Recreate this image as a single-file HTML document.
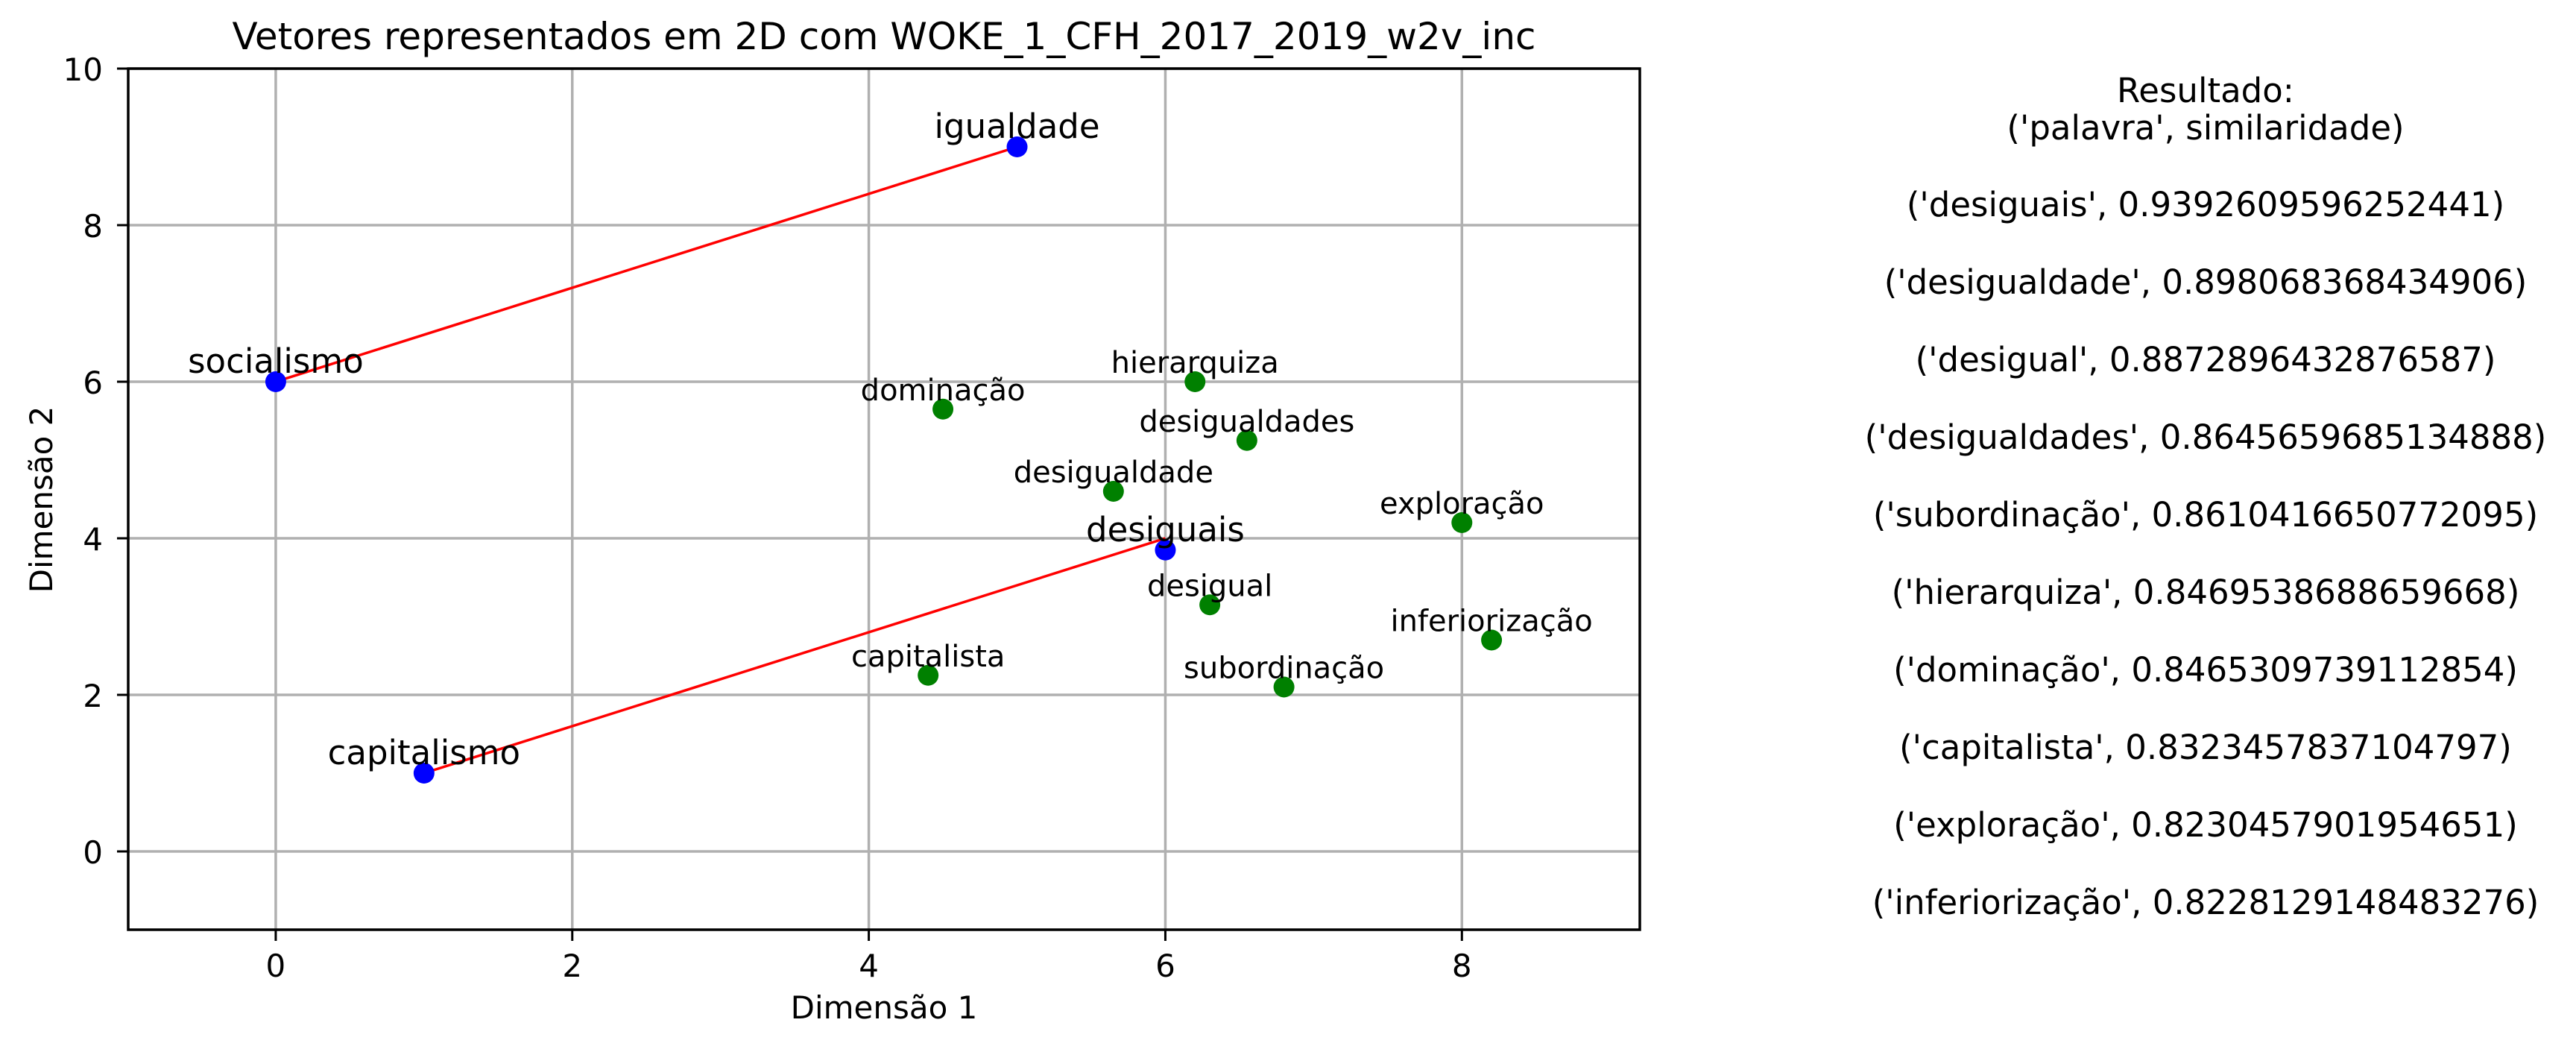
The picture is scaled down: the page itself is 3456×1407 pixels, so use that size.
<!DOCTYPE html>
<html><head><meta charset="utf-8">
<style>
html,body{margin:0;padding:0;background:#fff;}
svg{display:block;font-family:"DejaVu Sans","Liberation Sans",sans-serif;}
</style></head>
<body>
<svg id="chart" width="3456" height="1407" viewBox="0 0 3456 1407">
<text x="1186" y="66" font-size="50" text-anchor="middle">Vetores representados em 2D com WOKE_1_CFH_2017_2019_w2v_inc</text>
<text x="1186" y="1366" font-size="42" text-anchor="middle">Dimensão 1</text>
<text x="0" y="0" font-size="42" text-anchor="middle" transform="translate(70,670) rotate(-90)">Dimensão 2</text>
<g id="grid"></g><g id="lines"></g><g id="points"></g><g id="axes"></g>
<g id="result" font-size="45" text-anchor="middle"></g>
</svg>
<script>
const xTicks=[0,2,4,6,8];
const yTicks=[0,2,4,6,8,10];
const blueWords=["socialismo","igualdade","capitalismo","desiguais"];
const blueX=[0,5,1,6];
const blueY=[6,9,1,3.85];
const greenWords=["dominação","hierarquiza","desigualdades","desigualdade","exploração","desigual","inferiorização","capitalista","subordinação"];
const greenX=[4.5,6.2,6.55,5.65,8.0,6.3,8.2,4.4,6.8];
const greenY=[5.65,6.0,5.25,4.6,4.2,3.15,2.7,2.25,2.1];
const lineFromX=[0,1];
const lineFromY=[6,1];
const lineToX=[5,6];
const lineToY=[9,4.0];
const resultLines=["Resultado:","('palavra', similaridade)","('desiguais', 0.9392609596252441)","('desigualdade', 0.898068368434906)","('desigual', 0.8872896432876587)","('desigualdades', 0.8645659685134888)","('subordinação', 0.8610416650772095)","('hierarquiza', 0.8469538688659668)","('dominação', 0.8465309739112854)","('capitalista', 0.8323457837104797)","('exploração', 0.8230457901954651)","('inferiorização', 0.8228129148483276)"];

const L=172,R=2200,T=92,B=1247;
const xMin=-0.995,xMax=9.2,yMin=-1,yMax=10;
const sx=v=>L+(v-xMin)/(xMax-xMin)*(R-L);
const sy=v=>B-(v-yMin)/(yMax-yMin)*(B-T);
const NS="http://www.w3.org/2000/svg";
function mk(tag,attrs,parent,txt){const e=document.createElementNS(NS,tag);for(const k in attrs)e.setAttribute(k,attrs[k]);if(txt!==undefined)e.textContent=txt;document.getElementById(parent).appendChild(e);return e;}

xTicks.forEach(t=>{
  const g=mk('line',{x1:sx(t),x2:sx(t),y1:T,y2:B,stroke:'#b0b0b0','stroke-width':3.5},'grid');
  
  
  const tk=mk('line',{x1:sx(t),x2:sx(t),y1:B,y2:B+15,stroke:'#000','stroke-width':3},'axes');
  
  
  const lb=mk('text',{x:sx(t),y:B+63,'font-size':42,'text-anchor':'middle'},'axes',String(t));
  
  
});
yTicks.forEach(t=>{
  const g=mk('line',{x1:L,x2:R,y1:sy(t),y2:sy(t),stroke:'#b0b0b0','stroke-width':3.5},'grid');
  
  
  const tk=mk('line',{x1:L-15,x2:L,y1:sy(t),y2:sy(t),stroke:'#000','stroke-width':3},'axes');
  
  
  const lb=mk('text',{x:L-34,y:sy(t)+16,'font-size':42,'text-anchor':'end'},'axes',String(t));
  
  
});
const fr=mk('rect',{x:L,y:T,width:R-L,height:B-T,fill:'none',stroke:'#000','stroke-width':3.5},'axes');



lineFromX.forEach((v,i)=>{
  const l=mk('line',{x1:sx(v),y1:sy(lineFromY[i]),x2:sx(lineToX[i]),y2:sy(lineToY[i]),stroke:'#ff0000','stroke-width':3.5},'lines');
  
  
});
greenWords.forEach((w,i)=>{
  const c=mk('circle',{cx:sx(greenX[i]),cy:sy(greenY[i]),r:14,fill:'#008000'},'points');
  
  
  const t=mk('text',{x:sx(greenX[i]),y:sy(greenY[i])-12,'font-size':40,'text-anchor':'middle'},'points',w);
  
  
});
blueWords.forEach((w,i)=>{
  const c=mk('circle',{cx:sx(blueX[i]),cy:sy(blueY[i]),r:14,fill:'#0000ff'},'points');
  
  
  const t=mk('text',{x:sx(blueX[i]),y:sy(blueY[i])-12,'font-size':45,'text-anchor':'middle'},'points',w);
  
  
});
const ry=[137,187,290,394,498,602,706,810,914,1018,1122,1226];
resultLines.forEach((s,i)=>{
  const t=mk('text',{x:2959,y:ry[i]},'result',s);
  
  
});
</script>
</body></html>
